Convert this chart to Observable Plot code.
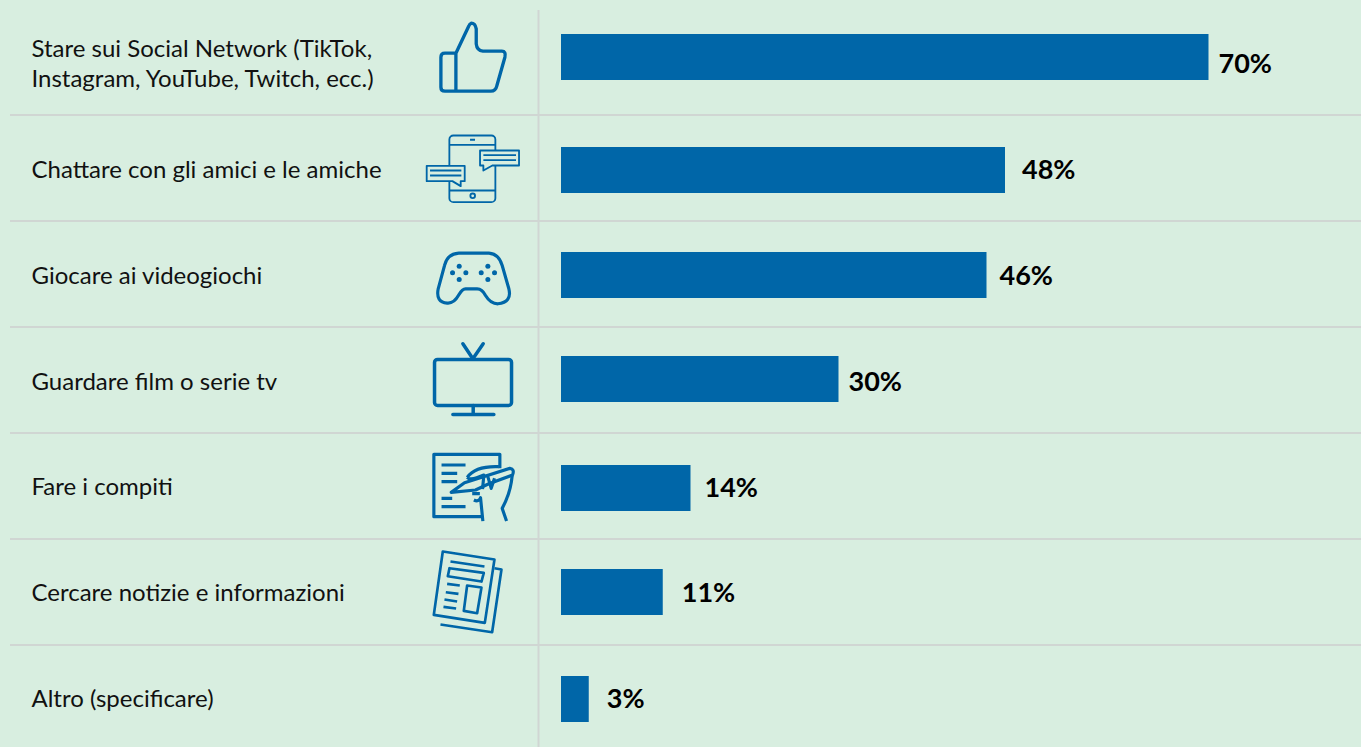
<!DOCTYPE html>
<html lang="it">
<head>
<meta charset="utf-8">
<title>Attività online</title>
<script src="https://cdn.jsdelivr.net/npm/d3@7"></script>
<script src="https://cdn.jsdelivr.net/npm/@observablehq/plot@0.6"></script>
<style>
  html, body { margin: 0; padding: 0; background: #d8eee0; overflow: hidden; }
  svg { display: block; }
</style>
</head>
<body>
<div id="chart"></div>
<script>
// Survey answers, one entry per row
const activities = [
  "Stare sui Social Network (TikTok,\nInstagram, YouTube, Twitch, ecc.)",
  "Chattare con gli amici e le amiche",
  "Giocare ai videogiochi",
  "Guardare film o serie tv",
  "Fare i compiti",
  "Cercare notizie e informazioni",
  "Altro (specificare)"
];
const shares = [70, 48, 46, 30, 14, 11, 3];

// Per-row nudges in pixels: rows were laid out by hand
const barNudge = [-5, 2, 1, -1, 2, 0, 1];
const valueGap = [10, 17, 13, 10, 14, 19, 18];
const valueNudge = [2, 2, 2, 2, 2, 1, 1];
const labelNudge = [0, 0, 0, 0, -1, -1, -1];

const ink = "#0066a8";
const paper = "#d8eee0";
const divider = "#d0d6d3";

// Line icons, drawn at three times their display size
const icons = [
  {dx: -88.6, dy: -5.3, x0: 8, y0: -10, stroke: 10, body: `
    <path d="M107,128 H74 Q62,128 62,140 V230 Q62,242 74,242 H212 Q226,242 230,225 L254,140 Q258,122 245,122 H188 Q170,120 168,100 V55 Q165,38 153,38 Q148,40 145,48 L107,128 V242"/>`},
  {dx: -88.8, dy: 0.3, x0: 8, y0: 325, stroke: 5.5, body: `
    <rect x="88" y="375" width="138" height="200" rx="12"/>
    <path d="M88,403 H226 M88,540 H226"/>
    <path d="M150,388 H165" stroke-width="6"/>
    <circle cx="158" cy="556" r="7"/>
    <path d="M180,420 H297 V465 H217 L190,480 V465 H180 Z" fill="${paper}"/>
    <path d="M190,434 H288 M190,449 H288"/>
    <path d="M20,466 H134 V512 H122 V527 L97,512 H20 Z" fill="${paper}"/>
    <path d="M30,480 H124 M30,495 H124"/>`},
  {dx: -88.3, dy: 4.3, x0: 8, y0: -20, stroke: 9.5, body: `
    <path d="M115,53 H205 Q235,55 245,90 L265,160 Q275,200 232,205 Q210,205 195,180 Q185,160 170,160 H135 Q125,160 115,178 Q100,205 80,203 Q45,200 53,160 L72,90 Q80,55 115,53 Z"/>
    <g fill="${ink}" stroke="none">
      <circle cx="116" cy="92" r="7.5"/><circle cx="96" cy="112" r="7.5"/><circle cx="136" cy="112" r="7.5"/><circle cx="116" cy="132" r="7.5"/>
      <circle cx="202" cy="92" r="7.5"/><circle cx="182" cy="112" r="7.5"/><circle cx="222" cy="112" r="7.5"/><circle cx="202" cy="132" r="7.5"/>
    </g>`},
  {dx: -88.3, dy: -1.7, x0: 8, y0: 280, stroke: 10.5, body: `
    <rect x="42" y="372" width="231" height="138" rx="9"/>
    <path d="M127,325 L157,370 L188,325 M158,510 V537 M97,537 H220" stroke-linecap="round"/>`},
  {dx: -88.3, dy: 0.2, x0: 8, y0: -25, stroke: 9.5, body: `
    <path d="M238,70 V28 H40 V215 H185"/>
    <path d="M63,60 H135 M63,85 H110 M63,110 H110 M63,160 H95 M63,185 H135"/>
    <path d="M92,142 L132,113 L268,70 Q283,72 276,90 L205,116 L165,135 Z" fill="${paper}"/>
    <path d="M140,97 Q165,62 235,65 M140,97 Q150,108 190,90 L186,132 M200,88 L212,130 L222,100 M155,146 H178 M160,165 Q175,172 180,158 L187,228 M275,92 Q270,145 245,190 L258,228"/>`},
  {dx: -92.7, dy: -0.3, x0: -5, y0: -10, stroke: 8, body: `
    <path d="M67,18 L222,42 L193,232 L40,208 Z"/>
    <path d="M222,68 L243,72 L215,260 L60,237"/>
    <path d="M90,48 L192,63 M80,115 L118,120 M76,140 L114,145 M72,162 L110,168 M69,184 L107,189"/>
    <path d="M87,68 L190,82 L183,108 L82,92 Z"/>
    <path d="M140,120 L183,126 L170,203 L130,196 Z"/>`}
];

const iconUri = ({x0, y0, stroke, body}) =>
  "data:image/svg+xml;utf8," + encodeURIComponent(
    `<svg xmlns="http://www.w3.org/2000/svg" viewBox="${x0} ${y0} 300 300"><g fill="none" stroke="${ink}" stroke-width="${stroke}" stroke-linejoin="round">${body}</g></svg>`
  );

const rows = activities.map((activity, i) => ({activity, share: shares[i]}));

const chart = Plot.plot({
  width: 1361,
  height: 747,
  marginTop: 10,
  marginLeft: 10,
  marginRight: 0,
  marginBottom: 0,
  style: {background: paper, fontFamily: "Lato, sans-serif", color: "#000"},
  x: {domain: [0, 80], range: [561, 1301], axis: null},
  y: {domain: activities, range: [9, 751], padding: 0, axis: null},
  marks: [
    // Row dividers and the column rule
    Plot.ruleY(activities.slice(1), {y: d => d, dy: -53.5, stroke: divider, strokeWidth: 2}),
    Plot.ruleX([0], {dx: -23, stroke: divider, strokeWidth: 2}),
    // Icons
    ...icons.map((icon, i) => Plot.image([rows[i]], {
      x: () => 0,
      y: "activity",
      src: () => iconUri(icon),
      width: 100,
      height: 100,
      dx: icon.dx,
      dy: icon.dy
    })),
    // Bars, labels and values, row by row
    ...rows.flatMap((row, i) => [
      Plot.barX([row], {
        x: "share",
        y: "activity",
        fill: ink,
        insetTop: 30,
        insetBottom: 30,
        dy: barNudge[i]
      }),
      Plot.text([row], {
        x: () => 0,
        y: "activity",
        text: "activity",
        textAnchor: "start",
        lineAnchor: "middle",
        lineHeight: 1.22,
        dx: -530,
        dy: labelNudge[i],
        fontSize: 24,
        fill: "#111"
      }),
      Plot.text([row], {
        x: "share",
        y: "activity",
        text: d => `${d.share}%`,
        textAnchor: "start",
        lineAnchor: "middle",
        dx: valueGap[i] - 0.5,
        dy: valueNudge[i],
        fontSize: 27,
        fontWeight: 700,
        fill: "#000"
      })
    ])
  ]
});

document.getElementById("chart").append(chart);
</script>
</body>
</html>
